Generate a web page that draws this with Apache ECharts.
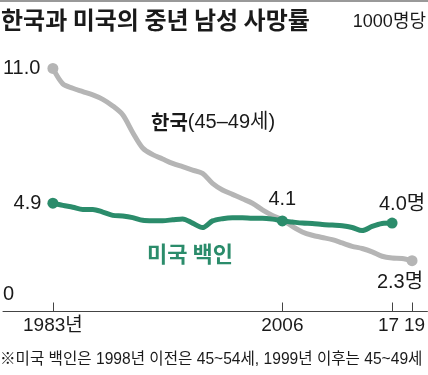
<!DOCTYPE html>
<html><head><meta charset="utf-8">
<script src="https://cdn.jsdelivr.net/npm/echarts@6/dist/echarts.min.js"></script>
<style>html,body{margin:0;padding:0;background:#fff}#c{width:428px;height:375px}</style>
</head><body><div id="c"></div>
<script>
var years = [1983,1984,1985,1986,1987,1988,1989,1990,1991,1992,1993,1994,1995,1996,1997,1998,1999,2000,2001,2002,2003,2004,2005,2006,2007,2008,2009,2010,2011,2012,2013,2014,2015,2016,2017,2018,2019];
var korea = [11.0,10.3,10.1,9.95,9.8,9.6,9.3,8.9,8.1,7.4,7.1,6.9,6.7,6.55,6.4,6.25,5.8,5.5,5.3,5.1,4.9,4.6,4.35,4.15,3.85,3.6,3.45,3.35,3.25,3.1,2.95,2.85,2.7,2.5,2.42,2.4,2.3];
var usWhite = [4.9,4.8,4.72,4.62,4.62,4.5,4.35,4.32,4.25,4.13,4.11,4.11,4.15,4.19,4.0,3.8,4.1,4.2,4.24,4.24,4.22,4.22,4.18,4.1,4.05,4.0,3.98,3.94,3.91,3.88,3.8,3.66,3.85,3.98,4.0];
var xTicksA = [1983,2006,2017];
var xTickLabelsA = ['1983년','2006','{l|17}'];
var xTicksB = [2019];
var xTickLabelsB = ['{r|19}'];

var NUM = "'Liberation Sans','Noto Sans CJK KR',sans-serif";
var KR = "'Noto Sans CJK KR',sans-serif";
var GRAY = '#b5b5b5', GREEN = '#2b8c6b', INK = '#1a1a1a';

function lbl(pos, text, extra){
  var o = {show:true, position:pos, formatter:text, color:INK, fontSize:20, fontFamily:NUM};
  for (var k in extra) o[k]=extra[k];
  return o;
}
var korData = korea.map(function(v,i){
  var d = {value:[years[i], v], symbol:'none'};
  if (i===0){ d.symbol='circle'; d.label=lbl('left', v.toFixed(1), {distance:7}); }
  if (i===korea.length-1){ d.symbol='circle'; d.label=lbl('bottom', v.toFixed(1)+'명', {distance:6, offset:[-12,0]}); }
  return d;
});
var usData = usWhite.map(function(v,i){
  var d = {value:[years[i], v], symbol:'none'};
  if (i===0){ d.symbol='circle'; d.label=lbl('left', v.toFixed(1), {distance:6}); }
  if (years[i]===2006){ d.symbol='circle'; d.label=lbl('top', v.toFixed(1), {distance:6}); }
  if (i===usWhite.length-1){ d.symbol='circle'; d.label=lbl('top', v.toFixed(1)+'명', {distance:3, offset:[10,0]}); }
  return d;
});

function xAxisDef(ticks, labels, showLine){
  return {type:'value', min:1978, max:2020.54, position:'bottom',
    axisLine:{show:showLine, onZero:false, lineStyle:{color:'#444', width:1}},
    axisTick:{show:true, inside:true, length:9, customValues:ticks, lineStyle:{color:'#444'}},
    axisLabel:{show:true, customValues:ticks, hideOverlap:false,
      margin:5, fontSize:19, fontFamily:NUM, color:INK,
      rich:{l:{fontSize:19, fontFamily:NUM, color:INK, padding:[0,7,0,0]},
            r:{fontSize:19, fontFamily:NUM, color:INK, padding:[0,0,0,5]}},
      formatter:function(v){ var i=ticks.indexOf(v); return i>=0?labels[i]:''; }},
    splitLine:{show:false}};
}

var chart = echarts.init(document.getElementById('c'), null, {renderer:'canvas'});
chart.setOption({
  animation:false,
  grid:{left:0, right:0, top:46.3, bottom:63.5, containLabel:false},
  xAxis:[xAxisDef(xTicksA, xTickLabelsA, true), xAxisDef(xTicksB, xTickLabelsB, false)],
  yAxis:{type:'value', min:0, max:12, position:'left',
    axisLine:{show:false}, axisTick:{show:false}, splitLine:{show:false},
    axisLabel:{show:true, inside:true, customValues:[0], align:'left', verticalAlign:'bottom', margin:0,
      padding:[0,0,7,0], fontSize:20, fontFamily:NUM, color:INK}},
  series:[
    {type:'line', xAxisIndex:0, data:korData, smooth:0.3, symbolSize:11, z:2,
      lineStyle:{color:GRAY, width:5}, itemStyle:{color:GRAY}},
    {type:'line', xAxisIndex:0, data:usData, smooth:0.3, symbolSize:11, z:3,
      lineStyle:{color:GREEN, width:5}, itemStyle:{color:GREEN}}
  ],
  graphic:[
    {type:'rect', shape:{x:0,y:0,width:428,height:2}, style:{fill:'#999'}},
    {type:'text', left:1, top:8, style:{text:'한국과 미국의 중년 남성 사망률', fontSize:24, fontWeight:'bold', fontFamily:KR, fill:INK}},
    {type:'text', right:2, top:13, style:{text:'1000명당', fontSize:18, fontFamily:NUM, fill:INK}},
    {type:'text', left:151, top:112, style:{rich:{b:{fontSize:20, fontWeight:'bold', fontFamily:KR, fill:INK}, r:{fontSize:20, fontFamily:NUM, fill:INK}}, text:'{b|한국}{r|(45–49세)}'}},
    {type:'text', left:147, top:243, style:{text:'미국 백인', fontSize:22, fontWeight:'bold', fontFamily:KR, fill:GREEN}},
    {type:'text', left:0, top:352, style:{text:'※미국 백인은 1998년 이전은 45~54세, 1999년 이후는 45~49세', fontSize:15.6, fontFamily:NUM, fill:INK}}
  ]
});
</script></body></html>
